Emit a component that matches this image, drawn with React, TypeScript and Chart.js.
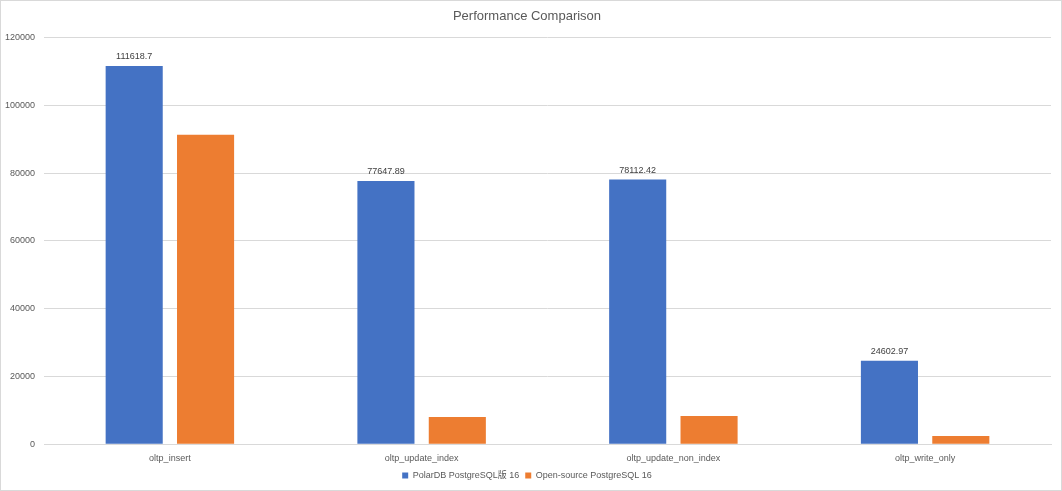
import React, { useEffect, useRef } from "react";
import { Chart, registerables } from "chart.js";

Chart.register(...registerables);

const categories = ["oltp_insert", "oltp_update_index", "oltp_update_non_index", "oltp_write_only"];
const polarValues = [111618.7, 77647.89, 78112.42, 24602.97];
const openSourceValues = [91300, 8000, 8300, 2400];
const seriesNames = ["PolarDB PostgreSQL版 16", "Open-source PostgreSQL 16"];
const FONT = "'Liberation Sans', 'Noto Sans CJK SC', sans-serif";

const labelPlugin = {
  id: "barLabels",
  afterDatasetsDraw(chart: any) {
    const ctx = chart.ctx;
    const meta = chart.getDatasetMeta(0);
    ctx.save();
    ctx.font = `9px ${FONT}`;
    ctx.fillStyle = "#404040";
    ctx.textAlign = "center";
    ctx.textBaseline = "bottom";
    meta.data.forEach((bar: any, i: number) => {
      ctx.fillText(String(polarValues[i]), bar.x, bar.y - 5);
    });
    ctx.restore();
  },
};

export default function App() {
  const ref = useRef<HTMLCanvasElement>(null);
  useEffect(() => {
    document.body.style.margin = "0";
    const chart = new Chart(ref.current!, {
      type: "bar",
      data: {
        labels: categories,
        datasets: [
          { label: seriesNames[0], data: polarValues, backgroundColor: "#4472C4", categoryPercentage: 0.567, barPercentage: 0.8 },
          { label: seriesNames[1], data: openSourceValues, backgroundColor: "#ED7D31", categoryPercentage: 0.567, barPercentage: 0.8 },
        ],
      },
      options: {
        animation: false,
        responsive: false,
        layout: { padding: { left: 2, right: 10, top: 8, bottom: 0 } },
        plugins: {
          title: {
            display: true,
            text: "Performance Comparison",
            color: "#595959",
            font: { family: FONT, size: 13, weight: "normal" },
            padding: { top: 0, bottom: 13 },
          },
          legend: {
            position: "bottom",
            labels: {
              color: "#595959",
              font: { family: FONT, size: 9 },
              boxWidth: 6,
              boxHeight: 6,
              padding: 6,
            },
          },
          tooltip: { enabled: false },
        },
        scales: {
          x: {
            grid: { display: false },
            border: { color: "#d9d9d9" },
            ticks: { color: "#595959", font: { family: FONT, size: 9 }, padding: 1 },
          },
          y: {
            min: 0,
            max: 120000,
            ticks: {
              stepSize: 20000,
              color: "#595959",
              font: { family: FONT, size: 9 },
              padding: 9,
              callback: (v: any) => String(v),
            },
            grid: { color: "#d9d9d9", drawTicks: false },
            border: { display: false },
            afterFit: (s: any) => { s.width = 41; },
          },
        },
      },
      plugins: [labelPlugin],
    });
    return () => chart.destroy();
  }, []);
  return (
    <div style={{ position: "fixed", left: 0, top: 0, width: 1062, height: 491, boxSizing: "border-box", border: "1px solid #d9d9d9", background: "#fff" }}>
      <canvas ref={ref} width={1060} height={489} />
    </div>
  );
}
